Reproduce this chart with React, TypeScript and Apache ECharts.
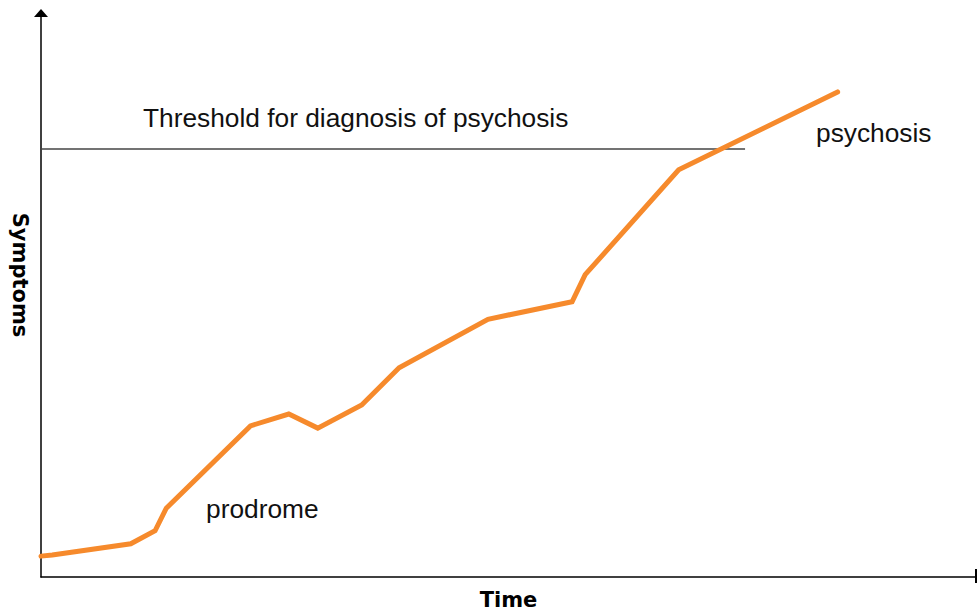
import React, { useEffect, useRef } from "react";
import * as echarts from "echarts";

// Symptom trajectory (arbitrary units)
const timeValues = [0, 1.2, 9.6, 12.2, 13.4, 22.4, 26.5, 29.6, 34.3, 38.3, 47.8, 56.8, 58.2, 68.2, 85.2];
const symptomValues = [3.7, 3.9, 5.9, 8.2, 12.2, 26.8, 28.9, 26.4, 30.5, 37.1, 45.7, 48.8, 53.6, 72.2, 86.0];

// Diagnostic threshold
const thresholdLevel = 75.9;
const thresholdStart = 0;
const thresholdEnd = 75.3;

const annotations = [
  { text: "Threshold for diagnosis of psychosis", x: 143, y: 118 },
  { text: "psychosis", x: 816, y: 133 },
  { text: "prodrome", x: 206, y: 509 },
];

const FONT = "'Liberation Sans', Arial, sans-serif";
const BOLD_FONT = "'DejaVu Sans', Verdana, sans-serif";

export default function App() {
  const ref = useRef<HTMLDivElement>(null);

  useEffect(() => {
    if (!ref.current) return;
    const chart = echarts.init(ref.current, undefined, { renderer: "svg" });
    const lineData = timeValues.map((t, i) => [t, symptomValues[i]]);
    chart.setOption({
      animation: false,
      backgroundColor: "#ffffff",
      textStyle: { fontFamily: FONT },
      grid: { left: 41, right: 1, top: 13, bottom: 38 },
      xAxis: {
        type: "value",
        min: 0,
        max: 100,
        name: "Time",
        nameLocation: "middle",
        nameGap: 12,
        nameTextStyle: { fontFamily: BOLD_FONT, fontWeight: "bold", fontSize: 21, color: "#000" },
        axisLine: { show: true, lineStyle: { color: "#000", width: 1.5 } },
        axisTick: { show: false },
        axisLabel: { show: false },
        splitLine: { show: false },
      },
      yAxis: {
        type: "value",
        min: 0,
        max: 100,
        axisLine: {
          show: true,
          symbol: ["none", "triangle"],
          symbolSize: [14, 8],
          lineStyle: { color: "#000", width: 1.5 },
        },
        axisTick: { show: false },
        axisLabel: { show: false },
        splitLine: { show: false },
      },
      graphic: [
        ...annotations.map((a) => ({
          type: "text",
          x: a.x,
          y: a.y,
          style: {
            text: a.text,
            fontFamily: FONT,
            fontSize: 26.3,
            fill: "#111",
            align: "left",
            verticalAlign: "middle",
          },
        })),
        {
          type: "text",
          x: 20,
          y: 275,
          rotation: -Math.PI / 2,
          style: {
            text: "Symptoms",
            fontFamily: BOLD_FONT,
            fontWeight: "bold",
            fontSize: 21,
            fill: "#000",
            align: "center",
            verticalAlign: "middle",
          },
        },
        {
          type: "line",
          shape: { x1: 976, y1: 569, x2: 976, y2: 583 },
          style: { stroke: "#000", lineWidth: 2 },
        },
      ],
      series: [
        {
          type: "line",
          data: [
            [thresholdStart, thresholdLevel],
            [thresholdEnd, thresholdLevel],
          ],
          symbol: "none",
          lineStyle: { color: "#444", width: 1.5 },
          silent: true,
        },
        {
          type: "line",
          data: lineData,
          symbol: "none",
          lineStyle: { color: "#f68a2c", width: 5, cap: "round", join: "miter" },
          silent: true,
        },
      ],
    });
    return () => chart.dispose();
  }, []);

  return <div ref={ref} style={{ width: 977, height: 615, position: "absolute", left: 0, top: 0 }} />;
}
